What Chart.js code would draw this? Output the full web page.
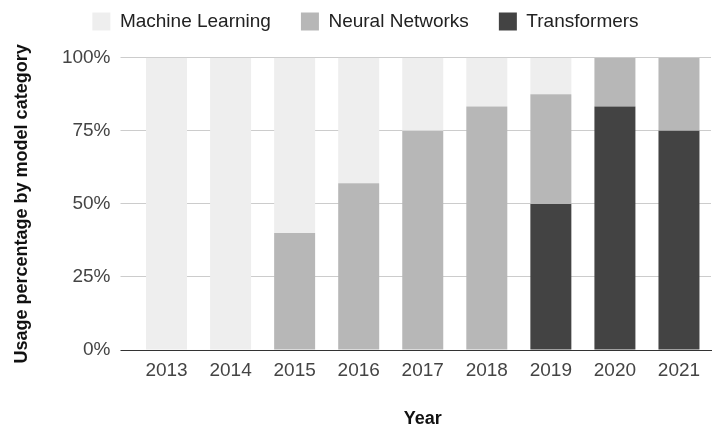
<!DOCTYPE html>
<html>
<head>
<meta charset="utf-8">
<script src="https://cdn.jsdelivr.net/npm/chart.js@4"></script>
<style>
  html, body { margin: 0; padding: 0; background: #fff; }
  #wrap { width: 713px; height: 430px; }
</style>
</head>
<body>
<div id="wrap"><canvas id="ch"></canvas></div>
<script>
// Share of model categories per year (percent of total).
const years = ['2013', '2014', '2015', '2016', '2017', '2018', '2019', '2020', '2021'];
const machineLearning = [100, 100, 60, 42.9, 25, 16.7, 12.5, 0, 0];
const neuralNetworks = [0, 0, 40, 57.1, 75, 83.3, 37.5, 16.7, 25];
const transformers = [0, 0, 0, 0, 0, 0, 50, 83.3, 75];
const yTicks = [0, 25, 50, 75, 100];

const C = { ml: '#eeeeee', nn: '#b7b7b7', tr: '#434343', grid: '#cccccc', base: '#333333', text: '#444444' };
const FONT = "'Liberation Sans', Arial, sans-serif";
Chart.defaults.font.family = FONT;
Chart.defaults.font.size = 19;
Chart.defaults.color = C.text;

const bar = (label, data, color) => ({
  label, data, backgroundColor: color, borderWidth: 0,
  barPercentage: 0.64, categoryPercentage: 1,
});

new Chart(document.getElementById('ch'), {
  type: 'bar',
  data: {
    labels: years,
    // stacked bottom-up: transformers, neural networks, machine learning
    datasets: [
      bar('Transformers', transformers, C.tr),
      bar('Neural Networks', neuralNetworks, C.nn),
      bar('Machine Learning', machineLearning, C.ml),
    ],
  },
  options: {
    responsive: true,
    maintainAspectRatio: false,
    animation: false,
    layout: { padding: { left: 20, right: 2, top: -18, bottom: 0 } },
    plugins: {
      tooltip: { enabled: false },
      legend: {
        position: 'top',
        reverse: true,
        labels: { boxWidth: 18, boxHeight: 18, padding: 30, color: '#222', font: { size: 19 } },
      },
      // blank spacer between the legend and the plot
      subtitle: { display: true, text: ' ', weight: 500, padding: 0, font: { size: 14 } },
    },
    scales: {
      x: {
        stacked: true,
        grid: { display: false, drawTicks: false },
        border: { display: true, color: C.base, width: 1 },
        ticks: { padding: 9, color: C.text },
        title: { display: true, text: 'Year', color: '#111', font: { size: 18, weight: 'bold' }, padding: { top: 0, bottom: 0 } },
        afterFit: s => { s.height = 80; },
      },
      y: {
        stacked: true,
        min: 0, max: 100,
        afterBuildTicks: s => { s.ticks = yTicks.map(v => ({ value: v })); },
        grid: {
          color: ctx => (ctx.tick && ctx.tick.value === 0 ? C.base : C.grid),
          tickColor: ctx => (ctx.tick && ctx.tick.value === 0 ? C.base : C.grid),
          tickLength: 14,
        },
        border: { display: false },
        ticks: { padding: 10, color: C.text, callback: v => v + '%' },
        title: { display: true, text: 'Usage percentage by model category', color: '#111', font: { size: 18, weight: 'bold' }, padding: { top: -9, bottom: 0 } },
        afterFit: s => { s.width = 114.5; },
      },
    },
  },
});
</script>
</body>
</html>
